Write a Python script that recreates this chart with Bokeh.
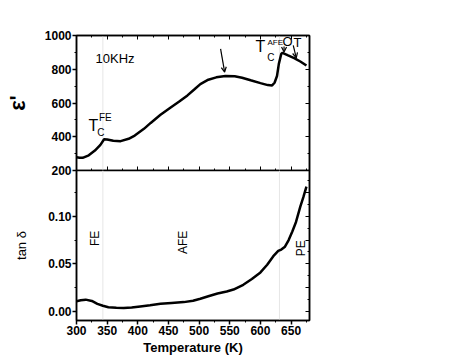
import math
from bokeh.plotting import figure
from bokeh.models import (Range1d, LinearAxis, Label, Arrow, OpenHead, Span,
                          SingleIntervalTicker, NumeralTickFormatter,
                          CustomJSTickFormatter)
from bokeh.layouts import column
from bokeh.embed import file_html
from bokeh.resources import INLINE

# ---------------- data ----------------
temp_eps = [300, 305, 310, 320, 330, 339, 345, 350, 360, 372, 385, 395, 410,
            421, 437, 453, 467, 481, 492, 502, 515, 528, 543, 558, 570, 584,
            600, 612, 619, 623, 627, 630, 634, 636, 645, 655, 665, 675]
eps_real = [279, 276, 275, 290, 318, 352, 385, 384, 376, 374, 388, 407, 447,
            482, 530, 572, 607, 645, 680, 712, 738, 752, 760, 758, 750, 735,
            718, 706, 704, 720, 760, 832, 892, 897, 882, 866, 846, 822]

temp_tan = [300, 307, 315, 325, 334, 343, 352, 365, 377, 390, 404, 420, 437,
            455, 475, 490, 502, 515, 530, 545, 556, 572, 586, 600, 611, 621,
            629, 634, 640, 646, 652, 658, 665, 670, 675]
tan_delta = [0.0108, 0.0118, 0.0124, 0.0110, 0.0080, 0.0060, 0.0045, 0.0038,
             0.0035, 0.0042, 0.0053, 0.0065, 0.0080, 0.0090, 0.0098, 0.0112,
             0.0134, 0.0160, 0.0188, 0.0210, 0.0230, 0.0280, 0.0340, 0.0410,
             0.0490, 0.0580, 0.0635, 0.0650, 0.0680, 0.0750, 0.0840, 0.0940,
             0.1100, 0.1200, 0.1310]

transition_temps = [343, 631]

temp_limits = (300, 680)
eps_limits = (200, 1000)
tan_limits = (-0.0095, 0.148)

FONT = "Liberation Sans"
FW = 233
LEFT = 76
RIGHT = 20

x_range = Range1d(*temp_limits)


def hidden_axis(ticker):
    return LinearAxis(ticker=ticker,
                      formatter=CustomJSTickFormatter(code="return ''"),
                      major_label_standoff=0, major_tick_in=4, major_tick_out=0,
                      minor_tick_in=2, minor_tick_out=0, axis_line_width=1.5)


def label_axis(ticker, title=None, title_size="12px", title_style="normal", standoff=5):
    return LinearAxis(ticker=ticker,
                      major_tick_out=4, major_tick_in=0, minor_tick_out=2,
                      minor_tick_in=0, major_label_standoff=1,
                      axis_line_width=1.5, major_tick_line_width=1.5,
                      major_label_text_font=FONT,
                      major_label_text_font_style="bold",
                      major_label_text_font_size="12px",
                      major_label_text_color="black",
                      axis_label=title,
                      axis_label_text_font=FONT,
                      axis_label_text_font_style=title_style,
                      axis_label_text_font_size=title_size,
                      axis_label_text_color="black",
                      axis_label_standoff=standoff)


def style_common(p):
    p.grid.visible = False
    p.outline_line_color = "black"
    p.outline_line_width = 1.5
    p.background_fill_color = "white"


def lab(p, x, y, text, size, align="left", angle=0.0, style="normal"):
    p.add_layout(Label(x=x, y=y, text=text, text_font=FONT,
                       text_font_size=size, text_align=align,
                       text_baseline="middle", angle=angle,
                       text_font_style=style, text_color="black"))


# ---------------- top panel: epsilon' ----------------
p1 = figure(frame_width=FW, frame_height=135, x_range=x_range,
            y_range=Range1d(*eps_limits), x_axis_location=None,
            y_axis_location=None, toolbar_location=None,
            output_backend="svg", min_border_left=LEFT,
            min_border_right=RIGHT, min_border_top=35, min_border_bottom=8)
style_common(p1)

left1 = label_axis(SingleIntervalTicker(interval=200, num_minor_ticks=2),
                   "\u03b5'", "22px", "bold", 12)
p1.add_layout(left1, "left")
p1.add_layout(hidden_axis(SingleIntervalTicker(interval=200, num_minor_ticks=2)), "right")
p1.add_layout(hidden_axis(SingleIntervalTicker(interval=50, num_minor_ticks=2)), "above")
p1.add_layout(hidden_axis(SingleIntervalTicker(interval=50, num_minor_ticks=2)), "below")

for t in transition_temps:
    p1.add_layout(Span(location=t, dimension="height", line_color="#e6e6e6",
                       line_width=1, level="underlay"))

p1.line(temp_eps, eps_real, line_color="black", line_width=2.5)

lab(p1, 331, 864, "10KHz", "13px")
# T_C^FE
lab(p1, 319.5, 467, "T", "16px")
lab(p1, 336.5, 514, "FE", "10px")
lab(p1, 334, 427, "C", "10px")
# T_C^AFE O T
lab(p1, 592, 935, "T", "16px")
lab(p1, 611.5, 961, "AFE", "8px")
lab(p1, 611, 870, "C", "10px")
lab(p1, 636, 964, "O", "13px")
lab(p1, 654, 961, "T", "13px")

for (xs, ys, xe, ye) in [(535, 921, 541.6, 783), (638.5, 935, 638.5, 902),
                         (653.5, 941, 658.4, 868)]:
    p1.add_layout(Arrow(end=OpenHead(size=5, line_width=1.2, line_color="black"),
                        x_start=xs, y_start=ys, x_end=xe, y_end=ye,
                        line_width=1.2, line_color="black"))

# ---------------- bottom panel: tan delta ----------------
p2 = figure(frame_width=FW, frame_height=150, x_range=x_range,
            y_range=Range1d(*tan_limits), x_axis_location=None,
            y_axis_location=None, toolbar_location=None,
            output_backend="svg", min_border_left=LEFT,
            min_border_right=RIGHT, min_border_top=0, min_border_bottom=0)
style_common(p2)
p2.border_fill_alpha = 0
p2.margin = (-8, 0, 0, 0)

left2 = label_axis(SingleIntervalTicker(interval=0.05, num_minor_ticks=2),
                   "tan \u03b4", "13px", "normal", 16)
left2.formatter = NumeralTickFormatter(format="0.00")
p2.add_layout(left2, "left")
p2.add_layout(hidden_axis(SingleIntervalTicker(interval=0.025, num_minor_ticks=2)), "right")

bottom2 = label_axis(SingleIntervalTicker(interval=50, num_minor_ticks=2),
                     "Temperature (K)", "13px", "bold", 2)
p2.add_layout(bottom2, "below")

for t in transition_temps:
    p2.add_layout(Span(location=t, dimension="height", line_color="#e6e6e6",
                       line_width=1, level="underlay"))

p2.line(temp_tan, tan_delta, line_color="black", line_width=2.5)

lab(p2, 329.4, 0.0768, "FE", "12px", align="center", angle=math.pi / 2)
lab(p2, 473, 0.0726, "AFE", "12px", align="center", angle=math.pi / 2)
lab(p2, 665.4, 0.0663, "PE", "12px", align="center", angle=math.pi / 2)

layout = column(p1, p2, spacing=0)

open("out.html", "w").write(file_html(layout, INLINE))
